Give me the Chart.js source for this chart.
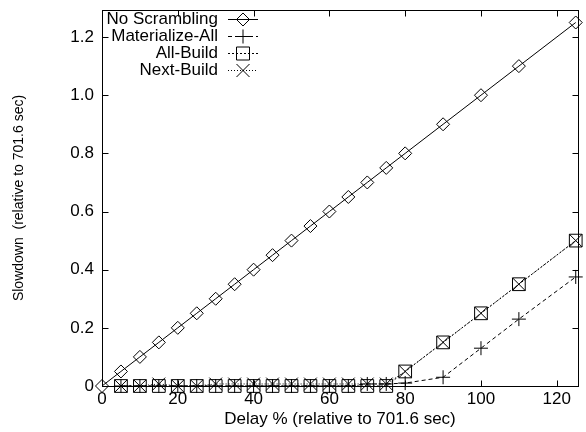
<!DOCTYPE html>
<html>
<head>
    <title>Slowdown vs Delay</title>
    <script src="https://cdn.jsdelivr.net/npm/chart.js"></script>
    <style>
        html, body { margin: 0; padding: 0; overflow: hidden; background: #fff; }
        canvas { display: block; }
    </style>
</head>
<body>
    <canvas id="slowdownChart" width="588" height="432"></canvas>
    <script>
        // Delay % values (x) and slowdown values (y)
        const noScrambleDelay = [0, 5, 10, 15, 20, 25, 30, 35, 40, 45, 50, 55, 60, 65, 70, 75, 80, 90, 100, 110, 125];
        const noScrambleSlow = [0, 0.05, 0.1, 0.15, 0.2, 0.25, 0.3, 0.35, 0.4, 0.45, 0.5, 0.55, 0.6, 0.65, 0.7, 0.75, 0.8, 0.9, 1.0, 1.1, 1.25];

        const scrambleDelay = [5, 10, 15, 20, 25, 30, 35, 40, 45, 50, 55, 60, 65, 70, 75, 80, 90, 100, 110, 125];
        const materializeSlow = [0, 0, 0, 0, 0, 0, 0, 0, 0, 0, 0, 0, 0, 0.007, 0.007, 0.01, 0.03, 0.13, 0.23, 0.375];
        const allBuildSlow = [0, 0, 0, 0, 0, 0, 0, 0, 0, 0, 0, 0, 0, 0, 0, 0.05, 0.15, 0.25, 0.35, 0.5];
        const nextBuildSlow = [0, 0, 0.007, 0, 0, 0.007, 0.007, 0.007, 0.007, 0.007, 0.007, 0.007, 0.007, 0.007, 0.007, 0.05, 0.15, 0.25, 0.35, 0.5];

        const seriesNames = ["No Scrambling", "Materialize-All", "All-Build", "Next-Build"];
        const xTicks = [0, 20, 40, 60, 80, 100, 120];
        const yTicks = [0, 0.2, 0.4, 0.6, 0.8, 1.0, 1.2];

        const FONT = '"Liberation Sans", Arial, Helvetica, sans-serif';

        function pts(xs, ys) {
            return xs.map((x, i) => ({ x: x, y: ys[i] }));
        }

        function series(label, data, style, radius, dash) {
            return {
                label: label,
                data: data,
                borderColor: "#000",
                borderWidth: 1,
                borderDash: dash,
                pointStyle: style,
                pointRadius: radius,
                pointHoverRadius: radius,
                pointBorderColor: "#000",
                pointBackgroundColor: "rgba(0,0,0,0)",
                pointBorderWidth: 1,
                fill: false,
                tension: 0,
                clip: false
            };
        }

        // small legend glyphs, gnuplot style
        function glyph(ctx, style, x, y) {
            ctx.beginPath();
            if (style === "rectRot") {
                ctx.moveTo(x - 6.5, y); ctx.lineTo(x, y - 6.5);
                ctx.lineTo(x + 6.5, y); ctx.lineTo(x, y + 6.5); ctx.closePath();
            } else if (style === "rect") {
                ctx.rect(x - 6.5, y - 6.5, 13, 13);
            } else if (style === "cross") {
                ctx.moveTo(x - 7, y); ctx.lineTo(x + 7, y);
                ctx.moveTo(x, y - 7); ctx.lineTo(x, y + 7);
            } else {
                ctx.moveTo(x - 6.5, y - 6.5); ctx.lineTo(x + 6.5, y + 6.5);
                ctx.moveTo(x + 6.5, y - 6.5); ctx.lineTo(x - 6.5, y + 6.5);
            }
            ctx.stroke();
        }

        const framePlugin = {
            id: "gnuplotFrame",
            afterDatasetsDraw(chart) {
                const ctx = chart.ctx;
                const a = chart.chartArea;
                const xs = chart.scales.x, ys = chart.scales.y;
                const L = Math.round(a.left) + 0.5, R = Math.round(a.right) + 0.5;
                const T = Math.round(a.top) + 0.5, B = Math.round(a.bottom) + 0.5;
                ctx.save();
                ctx.strokeStyle = "#000";
                ctx.lineWidth = 1;
                ctx.setLineDash([]);
                ctx.strokeRect(L, T, R - L, B - T);
                ctx.beginPath();
                xTicks.forEach(v => {
                    const px = Math.round(xs.getPixelForValue(v)) + 0.5;
                    ctx.moveTo(px, B); ctx.lineTo(px, B - 6);
                    ctx.moveTo(px, T); ctx.lineTo(px, T + 6);
                });
                yTicks.forEach(v => {
                    const py = Math.round(ys.getPixelForValue(v)) + 0.5;
                    ctx.moveTo(L, py); ctx.lineTo(L + 6, py);
                    ctx.moveTo(R, py); ctx.lineTo(R - 6, py);
                });
                ctx.stroke();

                // key, top left inside plot
                ctx.font = "17px " + FONT;
                ctx.textAlign = "right";
                ctx.textBaseline = "middle";
                ctx.fillStyle = "#000";
                chart.data.datasets.forEach((ds, i) => {
                    const y = 19 + 17 * i;
                    ctx.fillText(ds.label, 218, y);
                    ctx.setLineDash(ds.borderDash || []);
                    ctx.beginPath();
                    ctx.moveTo(228, Math.round(y) + 0.5);
                    ctx.lineTo(258, Math.round(y) + 0.5);
                    ctx.stroke();
                    ctx.setLineDash([]);
                    glyph(ctx, ds.pointStyle, 243, Math.round(y) + 0.5);
                });
                ctx.restore();
            }
        };

        new Chart(document.getElementById("slowdownChart"), {
            type: "line",
            data: {
                datasets: [
                    series(seriesNames[0], pts(noScrambleDelay, noScrambleSlow), "rectRot", 6.5, []),
                    series(seriesNames[1], pts(scrambleDelay, materializeSlow), "cross", 7, [4, 3]),
                    series(seriesNames[2], pts(scrambleDelay, allBuildSlow), "rect", 9, [2, 2]),
                    series(seriesNames[3], pts(scrambleDelay, nextBuildSlow), "crossRot", 9, [1, 2])
                ]
            },
            options: {
                responsive: false,
                animation: false,
                layout: { padding: { top: 7, right: 0, left: 0, bottom: 0 } },
                plugins: { legend: { display: false }, tooltip: { enabled: false } },
                scales: {
                    x: {
                        type: "linear",
                        min: 0,
                        max: 125.6,
                        afterBuildTicks: s => { s.ticks = xTicks.map(v => ({ value: v })); },
                        afterFit: s => { s.height = 46; s.paddingLeft = 0; s.paddingRight = 0; },
                        ticks: {
                            color: "#000",
                            font: { family: FONT, size: 17 },
                            padding: 3,
                            maxRotation: 0,
                            callback: v => String(v)
                        },
                        grid: { display: false, drawTicks: false },
                        border: { display: false },
                        title: {
                            display: true,
                            text: "Delay % (relative to 701.6 sec)",
                            color: "#000",
                            font: { family: FONT, size: 17 },
                            padding: { top: 0, bottom: 2 }
                        }
                    },
                    y: {
                        min: 0,
                        max: 1.293,
                        afterBuildTicks: s => { s.ticks = yTicks.map(v => ({ value: v })); },
                        afterFit: s => { s.width = 102; s.paddingTop = 0; s.paddingBottom = 0; },
                        ticks: {
                            color: "#000",
                            font: { family: FONT, size: 17, lineHeight: 0.5 },
                            padding: 8,
                            callback: v => (v === 0 ? "0" : v.toFixed(1))
                        },
                        grid: { display: false, drawTicks: false },
                        border: { display: false },
                        title: {
                            display: true,
                            text: "Slowdown  (relative to 701.6 sec)",
                            color: "#000",
                            font: { family: FONT, size: 14 },
                            padding: { top: 11, bottom: 0 }
                        }
                    }
                }
            },
            plugins: [framePlugin]
        });
    </script>
</body>
</html>
